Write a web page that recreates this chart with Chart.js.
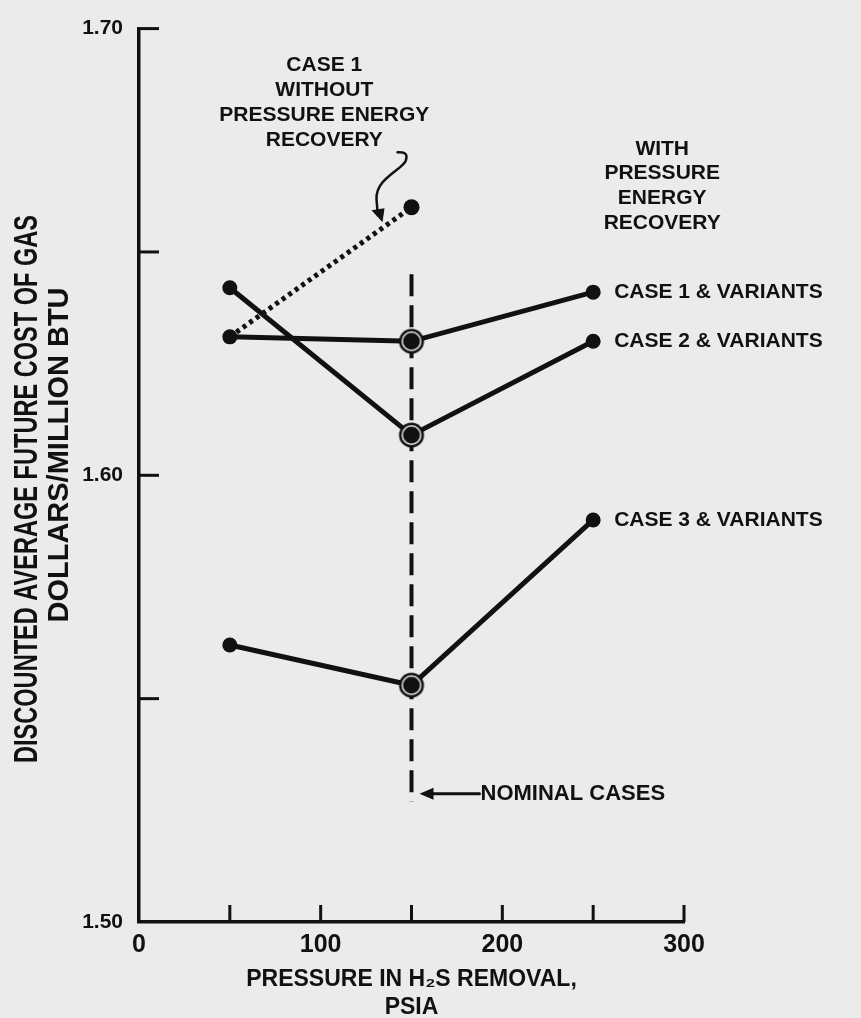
<!DOCTYPE html>
<html>
<head>
<meta charset="utf-8">
<script src="https://cdn.jsdelivr.net/npm/chart.js@4.4.1/dist/chart.umd.min.js"></script>
<style>
  html, body { margin: 0; padding: 0; background: #ebebeb; }
  #wrap { width: 861px; height: 1018px; }
</style>
</head>
<body>
<div id="wrap"><canvas id="chart" width="861" height="1018"></canvas></div>
<script>
// data (pressure in psia, cost in $/million Btu)
const pressures = [50, 150, 250];
const case1 = [1.631, 1.630, 1.641];
const case2 = [1.642, 1.609, 1.630];
const case3 = [1.562, 1.553, 1.590];
const noRecoveryPressures = [50, 150];
const case1NoRecovery = [1.631, 1.660];
const nominalPressure = 150;
const nominalSpan = [1.645, 1.527];
const xTickLabels = ['0', '100', '200', '300'];
const yTickLabels = ['1.50', '1.60', '1.70'];
const seriesNames = ['CASE 1 & VARIANTS', 'CASE 2 & VARIANTS', 'CASE 3 & VARIANTS'];

const INK = '#111';
const PAPER = '#ebebeb';
const SANS = '"Liberation Sans", Arial, sans-serif';
const NARROW = '"Liberation Sans Narrow", "Liberation Sans", Arial, sans-serif';

// nominal-case marker: black dot inside a ring
function ringMarker() {
  const c = document.createElement('canvas');
  c.width = c.height = 28;
  const g = c.getContext('2d');
  [[12.5, INK], [10, PAPER], [8.5, INK]].forEach(([r, col]) => {
    g.fillStyle = col;
    g.beginPath(); g.arc(14, 14, r, 0, Math.PI * 2); g.fill();
  });
  return c;
}
const ring = ringMarker();

function caseSet(name, values) {
  return {
    label: name,
    tag: name,
    data: pressures.map((p, i) => ({ x: p, y: values[i] })),
    borderColor: INK,
    backgroundColor: INK,
    pointBackgroundColor: INK,
    borderWidth: 5,
    pointRadius: 7.5,
    pointBorderWidth: 0,
    pointStyle: (c) => (c.dataIndex === 1 ? ring : 'circle'),
    order: 1
  };
}

// texts, arrows and inward tick marks
const notes = {
  id: 'notes',
  afterDraw(chart) {
    const { ctx, scales: { x, y } } = chart;
    const px = (v) => x.getPixelForValue(v);
    const py = (v) => y.getPixelForValue(v);
    ctx.save();
    ctx.strokeStyle = INK;
    ctx.fillStyle = INK;

    // ticks point into the plot
    ctx.lineWidth = 3;
    x.ticks.forEach((t) => {
      if (t.value === 0) return;
      ctx.beginPath();
      ctx.moveTo(px(t.value), y.bottom);
      ctx.lineTo(px(t.value), y.bottom - 17);
      ctx.stroke();
    });
    y.ticks.forEach((t) => {
      if (Math.abs(t.value - 1.5) < 1e-6) return;
      ctx.beginPath();
      ctx.moveTo(x.left, py(t.value));
      ctx.lineTo(x.left + 20, py(t.value));
      ctx.stroke();
    });

    // y axis title, two lines
    ctx.textAlign = 'center';
    ctx.textBaseline = 'middle';
    ctx.save();
    ctx.translate(28, 489);
    ctx.rotate(-Math.PI / 2);
    ctx.font = 'bold 33px ' + NARROW;
    ctx.fillText('DISCOUNTED AVERAGE FUTURE COST OF GAS', 0, 0, 548);
    ctx.restore();
    ctx.save();
    ctx.translate(60, 455);
    ctx.rotate(-Math.PI / 2);
    ctx.font = 'bold 29px ' + SANS;
    ctx.fillText('DOLLARS/MILLION BTU', 0, 0, 345);
    ctx.restore();

    // series labels at the end of each line
    ctx.font = 'bold 21px ' + SANS;
    ctx.textAlign = 'left';
    chart.data.datasets.forEach((ds, i) => {
      if (!ds.tag) return;
      const pts = chart.getDatasetMeta(i).data;
      const last = pts[pts.length - 1];
      ctx.fillText(ds.tag, last.x + 21, last.y);
    });

    // block notes
    ctx.textAlign = 'center';
    ['CASE 1', 'WITHOUT', 'PRESSURE ENERGY', 'RECOVERY'].forEach((s, i) =>
      ctx.fillText(s, px(102), py(1.6918) + i * 25));
    ['WITH', 'PRESSURE', 'ENERGY', 'RECOVERY'].forEach((s, i) =>
      ctx.fillText(s, px(288), py(1.6731) + i * 24.7));

    // curly pointer to the dotted line
    const ex = px(noRecoveryPressures[1]);
    const ey = py(case1NoRecovery[1]);
    ctx.lineWidth = 2.5;
    ctx.lineCap = 'round';
    ctx.beginPath();
    ctx.moveTo(ex - 14, ey - 55);
    ctx.quadraticCurveTo(ex - 2, ey - 56, ex - 6, ey - 46);
    ctx.bezierCurveTo(ex - 12, ey - 36, ex - 36, ey - 28, ex - 35, ey - 8);
    ctx.lineTo(ex - 34, ey + 4);
    ctx.stroke();
    ctx.beginPath();
    ctx.moveTo(ex - 40, ey + 3);
    ctx.lineTo(ex - 27, ey + 1);
    ctx.lineTo(ex - 29, ey + 15);
    ctx.closePath();
    ctx.fill();

    // nominal cases pointer
    const ny = py(1.5287);
    const nx = px(nominalPressure);
    ctx.lineWidth = 3;
    ctx.beginPath();
    ctx.moveTo(nx + 20, ny);
    ctx.lineTo(nx + 68, ny);
    ctx.stroke();
    ctx.beginPath();
    ctx.moveTo(nx + 8, ny);
    ctx.lineTo(nx + 22, ny - 6);
    ctx.lineTo(nx + 22, ny + 6);
    ctx.closePath();
    ctx.fill();
    ctx.textAlign = 'left';
    ctx.font = 'bold 22px ' + SANS;
    ctx.fillText('NOMINAL CASES', nx + 69, ny);

    ctx.restore();
  }
};

new Chart(document.getElementById('chart'), {
  type: 'line',
  data: {
    datasets: [
      caseSet(seriesNames[0], case1),
      caseSet(seriesNames[1], case2),
      caseSet(seriesNames[2], case3),
      {
        label: 'Case 1 without pressure energy recovery',
        data: noRecoveryPressures.map((p, i) => ({ x: p, y: case1NoRecovery[i] })),
        borderColor: INK,
        backgroundColor: INK,
        pointBackgroundColor: INK,
        borderWidth: 5,
        borderDash: [4, 4],
        pointRadius: (c) => (c.dataIndex === 1 ? 8 : 0),
        pointBorderWidth: 0,
        order: 2
      },
      {
        label: 'Nominal cases',
        data: nominalSpan.map((v) => ({ x: nominalPressure, y: v })),
        borderColor: INK,
        borderWidth: 4,
        borderDash: [22, 9],
        pointRadius: 0,
        order: 3
      }
    ]
  },
  options: {
    responsive: false,
    animation: false,
    events: [],
    layout: { padding: { top: 22, right: 177, bottom: 0, left: 0 } },
    plugins: { legend: { display: false }, tooltip: { enabled: false } },
    scales: {
      x: {
        type: 'linear',
        min: 0,
        max: 300,
        afterFit: (s) => { s.height = 96; },
        grid: { drawOnChartArea: false, drawTicks: false },
        border: { display: true, color: INK, width: 3.5 },
        ticks: {
          stepSize: 50,
          autoSkip: false,
          maxRotation: 0,
          padding: 8,
          color: INK,
          font: { family: NARROW, size: 25, weight: 'bold', lineHeight: 1.2 },
          callback: (v) => xTickLabels.find((l) => Number(l) === v) || ''
        },
        title: {
          display: true,
          text: ['PRESSURE IN H\u2082S REMOVAL,', 'PSIA'],
          color: INK,
          padding: { top: 0, bottom: -3 },
          font: { family: SANS, size: 23, weight: 'bold', lineHeight: 1.2 }
        }
      },
      y: {
        type: 'linear',
        min: 1.5,
        max: 1.7,
        afterFit: (s) => { s.width = 139; },
        grid: { drawOnChartArea: false, drawTicks: false },
        border: { display: true, color: INK, width: 3.5 },
        ticks: {
          stepSize: 0.05,
          autoSkip: false,
          padding: 16,
          color: INK,
          font: { family: SANS, size: 21, weight: 'bold' },
          callback: (v) => yTickLabels.find((l) => Math.abs(Number(l) - v) < 1e-6) || ''
        }
      }
    }
  },
  plugins: [notes]
});
</script>
</body>
</html>
